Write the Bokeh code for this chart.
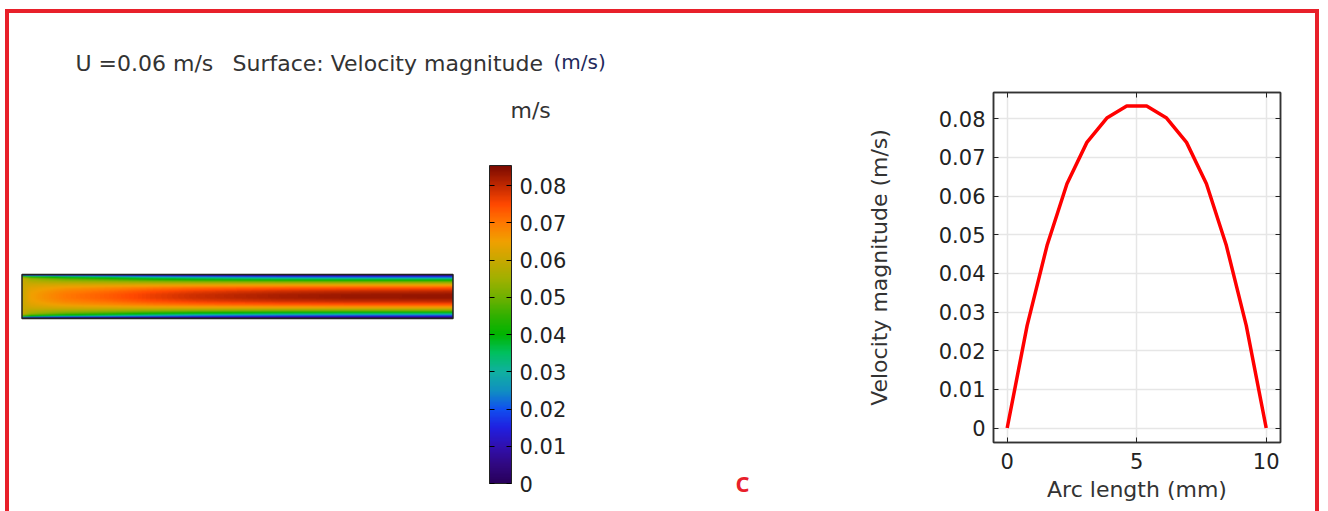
import numpy as np
from bokeh.plotting import figure
from bokeh.layouts import row
from bokeh.models import (LinearColorMapper, ColorBar, FixedTicker, CustomJSTickFormatter,
                          Label, LinearAxis, Range1d)
from bokeh.embed import file_html
from bokeh.resources import INLINE

# ---- data -------------------------------------------------------------
# Velocity magnitude across the channel section (line graph)
arc_length_mm = [0.0, 0.769, 1.538, 2.308, 3.077, 3.846, 4.615,
                 5.385, 6.154, 6.923, 7.692, 8.462, 9.231, 10.0]
velocity_ms = [0.0, 0.0265, 0.0472, 0.0632, 0.0739, 0.0802, 0.0833,
               0.0833, 0.0802, 0.0739, 0.0632, 0.0472, 0.0265, 0.0]

# Inlet section profile (U = 0.06 m/s)
inlet_s_mm = [0.0, 0.2, 0.5, 1.0, 9.0, 9.5, 9.8, 10.0]
inlet_u_ms = [0.0, 0.025, 0.05, 0.06, 0.06, 0.05, 0.025, 0.0]

# Centreline velocity along the channel
station_x_mm = [0, 2, 5, 10, 20, 30, 40, 50, 60, 75, 100]
centre_u_ms = [0.060, 0.065, 0.067, 0.070, 0.073, 0.0765, 0.079, 0.0805, 0.0818, 0.0828, 0.0833]

channel_length_mm = 100.0
channel_height_mm = 10.0

colorbar_max = 0.0854
velocity_ticks = [0, 0.01, 0.02, 0.03, 0.04, 0.05, 0.06, 0.07, 0.08]
arc_ticks = [0, 5, 10]

# rainbow colour table (value in m/s, colour)
rainbow_stops = [
    (0.000, "#28005a"), (0.005, "#300880"), (0.010, "#3010b0"), (0.015, "#2020e0"),
    (0.020, "#1050f0"), (0.025, "#1090c0"), (0.030, "#10b0a0"), (0.035, "#00c060"),
    (0.040, "#00b400"), (0.045, "#30b000"), (0.050, "#70b000"), (0.055, "#a0b000"),
    (0.060, "#c8a800"), (0.065, "#f0a000"), (0.070, "#ff7800"), (0.075, "#ff4800"),
    (0.080, "#c02800"), (0.0854, "#780800"),
]

TEXT = "#333333"
FONT = "DejaVu Sans"
FRAME_RED = "#e8202a"

# ---- page geometry (pixels) -----------------------------------------------
PAGE_H = 511
OX, OY = 9, 13                      # top-left of the content inside the red frame
LW = 851                            # left panel width
RW = 455                            # right panel width
H = PAGE_H - OY

# ---- palette ----------------------------------------------------------
stop_v = np.array([s[0] for s in rainbow_stops])
stop_rgb = np.array([[int(c[i:i + 2], 16) for i in (1, 3, 5)] for _, c in rainbow_stops])
levels = (np.arange(256) + 0.5) / 256 * colorbar_max
palette = []
for v in levels:
    r, g, b = (int(round(np.interp(v, stop_v, stop_rgb[:, k]))) for k in range(3))
    palette.append("#%02x%02x%02x" % (r, g, b))
mapper = LinearColorMapper(palette=palette, low=0, high=colorbar_max)

# ---- velocity field in the channel -----------------------------------
nx, ny = 430, 88
xs = np.linspace(0, channel_length_mm, nx)
ss = np.linspace(0, channel_height_mm, ny)
u_in_c = max(inlet_u_ms)
u_out_c = max(velocity_ms)
develop = (np.interp(xs, station_x_mm, centre_u_ms) - u_in_c) / (u_out_c - u_in_c)
inlet = np.interp(ss, inlet_s_mm, inlet_u_ms)
outlet = np.interp(ss, arc_length_mm, velocity_ms)
field = inlet[:, None] * (1 - develop[None, :]) + outlet[:, None] * develop[None, :]

# ---- left panel: surface plot ------------------------------------------
x0_px, x1_px = 21.5, 452.5
ytop_px, ybot_px = 274.0, 318.0
kx = (x1_px - x0_px) / channel_length_mm
ky = (ybot_px - ytop_px) / channel_height_mm


def lx(px):
    return (px - x0_px) / kx


def ly(py):
    return (ybot_px - py) / ky


left = figure(width=LW, height=H, output_backend="svg", toolbar_location=None,
              x_range=Range1d(lx(OX), lx(OX + LW)), y_range=Range1d(ly(PAGE_H), ly(OY)),
              x_axis_location=None, y_axis_location=None, min_border=0)
left.grid.visible = False
left.outline_line_color = None

left.image(image=[field], x=0, y=0, dw=channel_length_mm, dh=channel_height_mm,
           color_mapper=mapper)
left.quad(left=0, right=channel_length_mm, bottom=0, top=channel_height_mm,
          fill_alpha=0, line_color="#222222", line_width=1.5)

fmt = CustomJSTickFormatter(code="return Number(tick.toFixed(4)).toString();")

cb_x, cb_bottom = 489 - OX, PAGE_H - 483
cbar = ColorBar(color_mapper=mapper, orientation="vertical", location=(cb_x, cb_bottom),
                width=22, height=318, padding=0, margin=0,
                ticker=FixedTicker(ticks=velocity_ticks), formatter=fmt,
                label_standoff=8, major_label_text_font_size="21px",
                major_label_text_font=FONT, major_label_text_color="#222222",
                major_tick_in=5, major_tick_out=0, major_tick_line_color="black",
                minor_tick_line_color=None,
                bar_line_color="#222222", bar_line_width=1, background_fill_alpha=0)
left.add_layout(cbar)

# tick marks on the left edge of the colour bar
cbar_edge = ColorBar(color_mapper=mapper, orientation="vertical", location=(cb_x - 1, cb_bottom),
                     width=1, height=318, padding=0, margin=0, scale_alpha=0,
                     ticker=FixedTicker(ticks=velocity_ticks), formatter=fmt,
                     label_standoff=0, major_label_text_font_size="1px",
                     major_label_text_color=None,
                     major_tick_in=0, major_tick_out=5, major_tick_line_color="black",
                     minor_tick_line_color=None, bar_line_color=None,
                     background_fill_alpha=0)
left.add_layout(cbar_edge)

for txt, px, py, size, color in [
    ("U =0.06 m/s", 75, 63, "22px", TEXT),
    ("Surface: Velocity magnitude", 232, 63, "22px", TEXT),
    ("(m/s)", 553, 61, "20px", "#1f2a5c"),
    ("m/s", 510, 110, "22px", TEXT),
]:
    left.add_layout(Label(x=lx(px), y=ly(py), text=txt, text_font=FONT,
                          text_font_size=size, text_color=color,
                          text_baseline="middle"))

left.add_layout(Label(x=lx(735), y=ly(482), text="C", text_font="Open Sans",
                      text_font_size="22px", text_font_style="bold",
                      text_color=FRAME_RED, text_baseline="middle"))

# ---- right panel: line graph -----------------------------------------
fl, fr, ft, fb = 993, 1280, 92, 442          # frame edges on the page
ax0, ax10 = 1006.7, 1265.7                   # page x of arc 0 and 10 mm
vy0, vy8 = 427.5, 118.3                      # page y of 0 and 0.08 m/s
sx = (ax10 - ax0) / 10.0
sy = (vy0 - vy8) / 0.08
RX = OX + LW                                 # page x where the right panel starts


def rx(px):
    return (px - ax0) / sx


def ry(py):
    return (vy0 - py) / sy


right = figure(width=RW, height=H, output_backend="svg", toolbar_location=None,
               x_range=Range1d(rx(fl), rx(fr)), y_range=Range1d(ry(fb), ry(ft)),
               min_border_left=fl - RX, min_border_right=RX + RW - fr,
               min_border_top=ft - OY, min_border_bottom=PAGE_H - fb)

right.line(arc_length_mm, velocity_ms, line_color="#ff0000", line_width=3.5)

right.xaxis.ticker = FixedTicker(ticks=arc_ticks)
right.yaxis.ticker = FixedTicker(ticks=velocity_ticks)
right.yaxis.formatter = fmt
right.xgrid.ticker = FixedTicker(ticks=arc_ticks)
right.ygrid.ticker = FixedTicker(ticks=velocity_ticks)
right.grid.grid_line_color = "#e6e6e6"
right.grid.grid_line_width = 1.5
right.outline_line_color = "#333333"
right.outline_line_width = 1.5

for ax in (right.xaxis[0], right.yaxis[0]):
    ax.major_tick_in = 5
    ax.major_tick_out = 0
    ax.minor_tick_line_color = None
    ax.major_tick_line_color = "#222222"
    ax.axis_line_color = "#333333"
    ax.axis_line_width = 1.5
    ax.major_label_text_font = FONT
    ax.major_label_text_font_size = "21px"
    ax.major_label_text_color = "#222222"
    ax.axis_label_text_font = FONT
    ax.axis_label_text_font_size = "22px"
    ax.axis_label_text_font_style = "normal"
    ax.axis_label_text_color = TEXT

right.xaxis.axis_label = "Arc length (mm)"
right.xaxis.major_label_standoff = 10
right.xaxis.axis_label_standoff = 5
right.yaxis.axis_label = "Velocity magnitude (m/s)"
right.yaxis.major_label_standoff = 8
right.yaxis.axis_label_standoff = 44

# tick marks on the top and right edges of the frame
for ticks, place in ((arc_ticks, "above"), (velocity_ticks, "right")):
    right.add_layout(LinearAxis(ticker=FixedTicker(ticks=ticks), major_tick_in=5,
                                major_tick_out=0, minor_tick_line_color=None,
                                major_tick_line_color="#222222",
                                axis_line_color="#333333", axis_line_width=1.5,
                                major_label_text_font_size="1px",
                                major_label_text_color=None), place)

right.add_layout(Label(x=rx(907), y=ry(58), text="Line Graph: Velocity magnitude",
                       text_font=FONT, text_font_size="22px", text_color=TEXT,
                       text_baseline="middle"))
right.add_layout(Label(x=rx(1262), y=ry(57), text="(m/s)", text_font=FONT,
                       text_font_size="19px", text_color="#1f2a5c",
                       text_baseline="middle"))

for p in (left, right):
    if "frame_align" in p.properties():
        p.frame_align = False

red_edge = "4px solid " + FRAME_RED
layout = row(left, right, spacing=0,
             styles={"margin-left": "5px", "margin-top": "9px",
                     "border-left": red_edge, "border-top": red_edge,
                     "border-right": red_edge})
open("out.html", "w").write(file_html(layout, INLINE))
